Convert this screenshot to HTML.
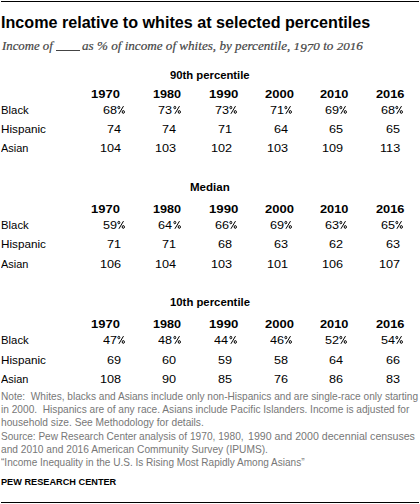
<!DOCTYPE html>
<html><head><meta charset="utf-8"><style>
html,body{margin:0;padding:0;background:#fff;width:420px;height:504px;overflow:hidden;position:relative}
div{position:absolute;white-space:pre;line-height:1;transform-origin:0 0}
.title{font:normal bold 16px "Liberation Sans", sans-serif;color:#000}
.sub{font:italic normal 13.5px "Liberation Serif", serif;color:#444}
.sec{font:normal bold 11.5px "Liberation Sans", sans-serif;color:#000}
.yr{font:normal bold 11.5px "Liberation Sans", sans-serif;color:#000}
.lab{font:normal normal 11.5px "Liberation Sans", sans-serif;color:#000}
.num{font:normal normal 11.5px "Liberation Sans", sans-serif;color:#000}
.note{font:normal normal 10.5px "Liberation Sans", sans-serif;color:#777}
.pew{font:normal bold 9.5px "Liberation Sans", sans-serif;color:#000}
.rule{left:1px;width:418px;height:1px;background:#000}
.pct{position:absolute;overflow:visible;fill:none;stroke:#000;stroke-width:1}
.sub{-webkit-text-stroke:0.2px #444}
.os,.od{display:inline-block;transform-origin:50% 11.3px}
.os{transform:scaleY(.69)}
.od{transform:translateY(2px) scaleY(.92)}
</style></head><body>
<div class="rule" style="top:1px"></div>
<div style="left:56.4px;top:50px;width:23.6px;height:1px;background:#444"></div>
<div class="title" style="left:0.99px;top:13.50px;transform:scaleX(1.0076)">Income relative to whites at selected percentiles</div>
<div class="sub" style="left:1.95px;top:38.00px;transform:scaleX(0.9460)">Income of</div>
<div class="sub" style="left:82.39px;top:38.00px;transform:scaleX(0.9720)">as % of income of whites, by percentile, <span class="os">1</span><span class="od">9</span><span class="od">7</span><span class="os">0</span> to <span class="os">2</span><span class="os">0</span><span class="os">1</span>6</div>
<div class="sec" style="left:170.15px;top:69.25px;transform:scaleX(0.9811)">90th percentile</div>
<div class="yr" style="left:91.19px;top:88.00px;transform:scaleX(1.1271)">1970</div>
<div class="yr" style="left:153.46px;top:88.00px;transform:scaleX(1.0964)">1980</div>
<div class="yr" style="left:209.18px;top:88.00px;transform:scaleX(1.1476)">1990</div>
<div class="yr" style="left:264.59px;top:88.00px;transform:scaleX(1.1310)">2000</div>
<div class="yr" style="left:320.35px;top:88.00px;transform:scaleX(1.1108)">2010</div>
<div class="yr" style="left:376.35px;top:88.00px;transform:scaleX(1.1128)">2016</div>
<div class="lab" style="left:0.86px;top:104.25px;transform:scaleX(0.9853)">Black</div>
<div class="num" style="left:103.19px;top:104.25px;transform:scaleX(1.1000)">68</div>
<div class="num" style="left:158.44px;top:104.25px;transform:scaleX(1.1000)">73</div>
<div class="num" style="left:214.69px;top:104.25px;transform:scaleX(1.1000)">73</div>
<div class="num" style="left:269.69px;top:104.25px;transform:scaleX(1.1000)">71</div>
<div class="num" style="left:324.94px;top:104.25px;transform:scaleX(1.1000)">69</div>
<div class="num" style="left:381.19px;top:104.25px;transform:scaleX(1.1000)">68</div>
<div class="lab" style="left:0.84px;top:123.25px;transform:scaleX(1.0169)">Hispanic</div>
<div class="num" style="left:106.99px;top:123.25px;transform:scaleX(1.1000)">74</div>
<div class="num" style="left:161.99px;top:123.25px;transform:scaleX(1.1000)">74</div>
<div class="num" style="left:218.44px;top:123.25px;transform:scaleX(1.1000)">71</div>
<div class="num" style="left:273.74px;top:123.25px;transform:scaleX(1.1000)">64</div>
<div class="num" style="left:329.44px;top:123.25px;transform:scaleX(1.1000)">65</div>
<div class="num" style="left:385.94px;top:123.25px;transform:scaleX(1.1000)">65</div>
<div class="lab" style="left:1.25px;top:142.00px;transform:scaleX(0.9512)">Asian</div>
<div class="num" style="left:99.96px;top:142.00px;transform:scaleX(1.1000)">104</div>
<div class="num" style="left:155.16px;top:142.00px;transform:scaleX(1.1000)">103</div>
<div class="num" style="left:211.41px;top:142.00px;transform:scaleX(1.1000)">102</div>
<div class="num" style="left:266.91px;top:142.00px;transform:scaleX(1.1000)">103</div>
<div class="num" style="left:322.41px;top:142.00px;transform:scaleX(1.1000)">109</div>
<div class="num" style="left:379.85px;top:142.00px;transform:scaleX(1.1000)">113</div>
<div class="sec" style="left:190.03px;top:181.25px;transform:scaleX(1.0042)">Median</div>
<div class="yr" style="left:91.19px;top:203.25px;transform:scaleX(1.1271)">1970</div>
<div class="yr" style="left:153.46px;top:203.25px;transform:scaleX(1.0964)">1980</div>
<div class="yr" style="left:209.18px;top:203.25px;transform:scaleX(1.1476)">1990</div>
<div class="yr" style="left:264.59px;top:203.25px;transform:scaleX(1.1310)">2000</div>
<div class="yr" style="left:320.35px;top:203.25px;transform:scaleX(1.1108)">2010</div>
<div class="yr" style="left:376.35px;top:203.25px;transform:scaleX(1.1128)">2016</div>
<div class="lab" style="left:0.86px;top:219.00px;transform:scaleX(0.9853)">Black</div>
<div class="num" style="left:103.19px;top:219.00px;transform:scaleX(1.1000)">59</div>
<div class="num" style="left:158.24px;top:219.00px;transform:scaleX(1.1000)">64</div>
<div class="num" style="left:214.69px;top:219.00px;transform:scaleX(1.1000)">66</div>
<div class="num" style="left:269.69px;top:219.00px;transform:scaleX(1.1000)">69</div>
<div class="num" style="left:324.94px;top:219.00px;transform:scaleX(1.1000)">63</div>
<div class="num" style="left:381.19px;top:219.00px;transform:scaleX(1.1000)">65</div>
<div class="lab" style="left:0.84px;top:238.25px;transform:scaleX(1.0169)">Hispanic</div>
<div class="num" style="left:107.19px;top:238.25px;transform:scaleX(1.1000)">71</div>
<div class="num" style="left:162.19px;top:238.25px;transform:scaleX(1.1000)">71</div>
<div class="num" style="left:218.44px;top:238.25px;transform:scaleX(1.1000)">68</div>
<div class="num" style="left:273.94px;top:238.25px;transform:scaleX(1.1000)">63</div>
<div class="num" style="left:329.44px;top:238.25px;transform:scaleX(1.1000)">62</div>
<div class="num" style="left:385.94px;top:238.25px;transform:scaleX(1.1000)">63</div>
<div class="lab" style="left:1.25px;top:258.25px;transform:scaleX(0.9512)">Asian</div>
<div class="num" style="left:100.16px;top:258.25px;transform:scaleX(1.1000)">106</div>
<div class="num" style="left:154.96px;top:258.25px;transform:scaleX(1.1000)">104</div>
<div class="num" style="left:211.41px;top:258.25px;transform:scaleX(1.1000)">103</div>
<div class="num" style="left:266.91px;top:258.25px;transform:scaleX(1.1000)">101</div>
<div class="num" style="left:322.41px;top:258.25px;transform:scaleX(1.1000)">106</div>
<div class="num" style="left:378.91px;top:258.25px;transform:scaleX(1.1000)">107</div>
<div class="sec" style="left:169.79px;top:296.25px;transform:scaleX(0.9855)">10th percentile</div>
<div class="yr" style="left:91.19px;top:318.25px;transform:scaleX(1.1271)">1970</div>
<div class="yr" style="left:153.46px;top:318.25px;transform:scaleX(1.0964)">1980</div>
<div class="yr" style="left:209.18px;top:318.25px;transform:scaleX(1.1476)">1990</div>
<div class="yr" style="left:264.59px;top:318.25px;transform:scaleX(1.1310)">2000</div>
<div class="yr" style="left:320.35px;top:318.25px;transform:scaleX(1.1108)">2010</div>
<div class="yr" style="left:376.35px;top:318.25px;transform:scaleX(1.1128)">2016</div>
<div class="lab" style="left:0.86px;top:334.00px;transform:scaleX(0.9853)">Black</div>
<div class="num" style="left:103.19px;top:334.00px;transform:scaleX(1.1000)">47</div>
<div class="num" style="left:158.44px;top:334.00px;transform:scaleX(1.1000)">48</div>
<div class="num" style="left:214.49px;top:334.00px;transform:scaleX(1.1000)">44</div>
<div class="num" style="left:269.69px;top:334.00px;transform:scaleX(1.1000)">46</div>
<div class="num" style="left:324.94px;top:334.00px;transform:scaleX(1.1000)">52</div>
<div class="num" style="left:380.99px;top:334.00px;transform:scaleX(1.1000)">54</div>
<div class="lab" style="left:0.84px;top:353.75px;transform:scaleX(1.0169)">Hispanic</div>
<div class="num" style="left:107.19px;top:353.75px;transform:scaleX(1.1000)">69</div>
<div class="num" style="left:161.99px;top:353.75px;transform:scaleX(1.1000)">60</div>
<div class="num" style="left:218.44px;top:353.75px;transform:scaleX(1.1000)">59</div>
<div class="num" style="left:273.94px;top:353.75px;transform:scaleX(1.1000)">58</div>
<div class="num" style="left:329.24px;top:353.75px;transform:scaleX(1.1000)">64</div>
<div class="num" style="left:385.94px;top:353.75px;transform:scaleX(1.1000)">66</div>
<div class="lab" style="left:1.25px;top:373.25px;transform:scaleX(0.9512)">Asian</div>
<div class="num" style="left:100.16px;top:373.25px;transform:scaleX(1.1000)">108</div>
<div class="num" style="left:161.99px;top:373.25px;transform:scaleX(1.1000)">90</div>
<div class="num" style="left:218.44px;top:373.25px;transform:scaleX(1.1000)">85</div>
<div class="num" style="left:273.94px;top:373.25px;transform:scaleX(1.1000)">76</div>
<div class="num" style="left:329.44px;top:373.25px;transform:scaleX(1.1000)">86</div>
<div class="num" style="left:385.94px;top:373.25px;transform:scaleX(1.1000)">83</div>
<div class="note" style="left:0.96px;top:390.00px;transform:scaleX(0.9630)">Note:  Whites, blacks and Asians include only non-Hispanics and are single-race only starting</div>
<div class="note" style="left:1.12px;top:403.00px;transform:scaleX(0.9664)">in 2000.  Hispanics are of any race. Asians include Pacific Islanders. Income is adjusted for</div>
<div class="note" style="left:1.11px;top:415.75px;transform:scaleX(0.9705)">household size. See Methodology for details.</div>
<div class="note" style="left:1.44px;top:430.00px;transform:scaleX(0.9570)">Source: Pew Research Center</div>
<div class="note" style="left:138.68px;top:430.00px;transform:scaleX(0.9693)">analysis of 1970, 1980,</div>
<div class="note" style="left:247.94px;top:430.00px;transform:scaleX(1.0102)">1990 and 2000 decennial censuses</div>
<div class="note" style="left:1.43px;top:443.00px;transform:scaleX(0.9711)">and 2010 and 2016 American Community Survey (IPUMS).</div>
<div class="note" style="left:1.44px;top:456.25px;transform:scaleX(0.9562)">“Income Inequality in the U.S. Is Rising Most Rapidly Among Asians”</div>
<div class="pew" style="left:1.18px;top:476.00px;transform:scaleX(0.9661)">PEW RESEARCH CENTER</div>
<svg class="pct" style="left:117.25px;top:105.00px" width="10" height="10" viewBox="0 0 10 10"><ellipse cx="1.85" cy="2.55" rx="0.95" ry="1.25"/><ellipse cx="6.3" cy="6.95" rx="1.1" ry="1.4"/><path d="M1.9 8.8L6.5 1.1"/></svg>
<svg class="pct" style="left:172.50px;top:105.00px" width="10" height="10" viewBox="0 0 10 10"><ellipse cx="1.85" cy="2.55" rx="0.95" ry="1.25"/><ellipse cx="6.3" cy="6.95" rx="1.1" ry="1.4"/><path d="M1.9 8.8L6.5 1.1"/></svg>
<svg class="pct" style="left:228.75px;top:105.00px" width="10" height="10" viewBox="0 0 10 10"><ellipse cx="1.85" cy="2.55" rx="0.95" ry="1.25"/><ellipse cx="6.3" cy="6.95" rx="1.1" ry="1.4"/><path d="M1.9 8.8L6.5 1.1"/></svg>
<svg class="pct" style="left:283.75px;top:105.00px" width="10" height="10" viewBox="0 0 10 10"><ellipse cx="1.85" cy="2.55" rx="0.95" ry="1.25"/><ellipse cx="6.3" cy="6.95" rx="1.1" ry="1.4"/><path d="M1.9 8.8L6.5 1.1"/></svg>
<svg class="pct" style="left:339.00px;top:105.00px" width="10" height="10" viewBox="0 0 10 10"><ellipse cx="1.85" cy="2.55" rx="0.95" ry="1.25"/><ellipse cx="6.3" cy="6.95" rx="1.1" ry="1.4"/><path d="M1.9 8.8L6.5 1.1"/></svg>
<svg class="pct" style="left:395.25px;top:105.00px" width="10" height="10" viewBox="0 0 10 10"><ellipse cx="1.85" cy="2.55" rx="0.95" ry="1.25"/><ellipse cx="6.3" cy="6.95" rx="1.1" ry="1.4"/><path d="M1.9 8.8L6.5 1.1"/></svg>
<svg class="pct" style="left:117.25px;top:220.00px" width="10" height="10" viewBox="0 0 10 10"><ellipse cx="1.85" cy="2.55" rx="0.95" ry="1.25"/><ellipse cx="6.3" cy="6.95" rx="1.1" ry="1.4"/><path d="M1.9 8.8L6.5 1.1"/></svg>
<svg class="pct" style="left:172.50px;top:220.00px" width="10" height="10" viewBox="0 0 10 10"><ellipse cx="1.85" cy="2.55" rx="0.95" ry="1.25"/><ellipse cx="6.3" cy="6.95" rx="1.1" ry="1.4"/><path d="M1.9 8.8L6.5 1.1"/></svg>
<svg class="pct" style="left:228.75px;top:220.00px" width="10" height="10" viewBox="0 0 10 10"><ellipse cx="1.85" cy="2.55" rx="0.95" ry="1.25"/><ellipse cx="6.3" cy="6.95" rx="1.1" ry="1.4"/><path d="M1.9 8.8L6.5 1.1"/></svg>
<svg class="pct" style="left:283.75px;top:220.00px" width="10" height="10" viewBox="0 0 10 10"><ellipse cx="1.85" cy="2.55" rx="0.95" ry="1.25"/><ellipse cx="6.3" cy="6.95" rx="1.1" ry="1.4"/><path d="M1.9 8.8L6.5 1.1"/></svg>
<svg class="pct" style="left:339.00px;top:220.00px" width="10" height="10" viewBox="0 0 10 10"><ellipse cx="1.85" cy="2.55" rx="0.95" ry="1.25"/><ellipse cx="6.3" cy="6.95" rx="1.1" ry="1.4"/><path d="M1.9 8.8L6.5 1.1"/></svg>
<svg class="pct" style="left:395.25px;top:220.00px" width="10" height="10" viewBox="0 0 10 10"><ellipse cx="1.85" cy="2.55" rx="0.95" ry="1.25"/><ellipse cx="6.3" cy="6.95" rx="1.1" ry="1.4"/><path d="M1.9 8.8L6.5 1.1"/></svg>
<svg class="pct" style="left:117.25px;top:335.00px" width="10" height="10" viewBox="0 0 10 10"><ellipse cx="1.85" cy="2.55" rx="0.95" ry="1.25"/><ellipse cx="6.3" cy="6.95" rx="1.1" ry="1.4"/><path d="M1.9 8.8L6.5 1.1"/></svg>
<svg class="pct" style="left:172.50px;top:335.00px" width="10" height="10" viewBox="0 0 10 10"><ellipse cx="1.85" cy="2.55" rx="0.95" ry="1.25"/><ellipse cx="6.3" cy="6.95" rx="1.1" ry="1.4"/><path d="M1.9 8.8L6.5 1.1"/></svg>
<svg class="pct" style="left:228.75px;top:335.00px" width="10" height="10" viewBox="0 0 10 10"><ellipse cx="1.85" cy="2.55" rx="0.95" ry="1.25"/><ellipse cx="6.3" cy="6.95" rx="1.1" ry="1.4"/><path d="M1.9 8.8L6.5 1.1"/></svg>
<svg class="pct" style="left:283.75px;top:335.00px" width="10" height="10" viewBox="0 0 10 10"><ellipse cx="1.85" cy="2.55" rx="0.95" ry="1.25"/><ellipse cx="6.3" cy="6.95" rx="1.1" ry="1.4"/><path d="M1.9 8.8L6.5 1.1"/></svg>
<svg class="pct" style="left:339.00px;top:335.00px" width="10" height="10" viewBox="0 0 10 10"><ellipse cx="1.85" cy="2.55" rx="0.95" ry="1.25"/><ellipse cx="6.3" cy="6.95" rx="1.1" ry="1.4"/><path d="M1.9 8.8L6.5 1.1"/></svg>
<svg class="pct" style="left:395.25px;top:335.00px" width="10" height="10" viewBox="0 0 10 10"><ellipse cx="1.85" cy="2.55" rx="0.95" ry="1.25"/><ellipse cx="6.3" cy="6.95" rx="1.1" ry="1.4"/><path d="M1.9 8.8L6.5 1.1"/></svg>
<div class="rule" style="top:502px"></div>
</body></html>
